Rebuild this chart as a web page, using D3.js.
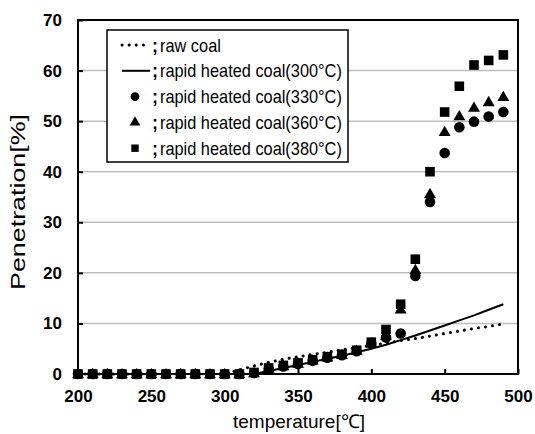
<!DOCTYPE html>
<html>
<head>
<meta charset="utf-8">
<script src="https://cdn.jsdelivr.net/npm/d3@7"></script>
<style>
  html, body { margin: 0; padding: 0; background: #fff; }
  svg { display: block; font-family: "Liberation Sans", Arial, sans-serif; }
</style>
</head>
<body>
<svg id="chart" width="535" height="434"></svg>
<script>
// Temperatures of the measurements (°C)
const temps = [200, 210, 220, 230, 240, 250, 260, 270, 280, 290,
               300, 310, 320, 330, 340, 350, 360, 370, 380, 390,
               400, 410, 420, 430, 440, 450, 460, 470, 480, 490];

// Penetration (%) per sample
const rawCoal = [0, 0, 0, 0, 0, 0, 0, 0, 0, 0,
                 0, 0.8, 1.6, 2.3, 2.9, 3.4, 3.9, 4.3, 4.8, 5.2,
                 5.7, 6.1, 6.6, 7.0, 7.5, 8.0, 8.5, 9.0, 9.4, 9.9];
const heated300 = [0, 0, 0, 0, 0, 0, 0, 0, 0, 0,
                   0, 0, 0, 0.6, 1.2, 1.8, 2.4, 3.0, 3.6, 4.3,
                   5.0, 5.8, 6.7, 7.6, 8.6, 9.6, 10.6, 11.6, 12.7, 13.8];
const heated330 = [0, 0, 0, 0, 0, 0, 0, 0, 0, 0,
                   0, 0, 0.2, 1.0, 1.5, 2.0, 2.6, 3.2, 3.7, 4.5,
                   6.0, 7.2, 8.0, 19.4, 34.0, 43.7, 48.8, 49.9, 50.9, 51.8];
const heated360 = [0, 0, 0, 0, 0, 0, 0, 0, 0, 0,
                   0, 0, 0.2, 1.1, 1.6, 2.1, 2.7, 3.3, 3.8, 4.6,
                   6.1, 7.6, 12.8, 20.6, 35.6, 47.9, 51.0, 52.7, 53.8, 54.8];
const heated380 = [0, 0, 0, 0, 0, 0, 0, 0, 0, 0,
                   0, 0, 0.3, 1.2, 1.7, 2.2, 2.8, 3.4, 3.9, 4.7,
                   6.3, 8.8, 13.8, 22.7, 40.0, 51.8, 56.9, 61.1, 62.0, 63.1];

// Axis ticks
const xTicks = [200, 250, 300, 350, 400, 450, 500];
const yTicks = [0, 10, 20, 30, 40, 50, 60, 70];
const gridValues = [10, 20, 30, 40, 50, 60];

// Legend entries
const legendLabels = ["raw coal", "rapid heated coal(300°C)", "rapid heated coal(330°C)",
                      "rapid heated coal(360°C)", "rapid heated coal(380°C)"];

const svg = d3.select("#chart");
const plot = { left: 78, right: 518, top: 20, bottom: 374 };

const x = d3.scaleLinear().domain([200, 500]).range([plot.left, plot.right]);
const y = d3.scaleLinear().domain([0, 70]).range([plot.bottom, plot.top]);

// Horizontal grid
svg.append("g")
  .selectAll("line")
  .data(gridValues)
  .join("line")
  .attr("x1", plot.left).attr("x2", plot.right)
  .attr("y1", d => y(d)).attr("y2", d => y(d))
  .attr("stroke", "#bdbdbd").attr("stroke-width", 1.5);

// Lines
const line = d3.line().x(d => x(d[0])).y(d => y(d[1]));
svg.append("path")
  .datum(temps.map((t, i) => [t, rawCoal[i]]))
  .attr("d", line)
  .attr("fill", "none").attr("stroke", "#000")
  .attr("stroke-width", 3).attr("stroke-linecap", "round")
  .attr("stroke-dasharray", "0.1 7");
svg.append("path")
  .datum(temps.map((t, i) => [t, heated300[i]]))
  .attr("d", line)
  .attr("fill", "none").attr("stroke", "#000").attr("stroke-width", 2);

// Markers
const symCircle = d3.symbol().type(d3.symbolCircle).size(88);
const symTriangle = d3.symbol().type(d3.symbolTriangle).size(62);
const symSquare = d3.symbol().type(d3.symbolSquare).size(92);

function drawMarkers(values, gen, dy) {
  svg.append("g")
    .selectAll("path")
    .data(temps.map((t, i) => [t, values[i]]))
    .join("path")
    .attr("d", gen)
    .attr("transform", d => `translate(${x(d[0])},${y(d[1]) + dy})`)
    .attr("fill", "#000");
}
drawMarkers(heated330, symCircle, 0);
drawMarkers(heated360, symTriangle, 0.8);
drawMarkers(heated380, symSquare, 0);

// Axes with inward ticks
const xAxis = svg.append("g")
  .attr("transform", `translate(0,${plot.bottom})`)
  .call(d3.axisBottom(x).tickValues(xTicks).tickSize(-5).tickPadding(16));
const yAxis = svg.append("g")
  .attr("transform", `translate(${plot.left},0)`)
  .call(d3.axisLeft(y).tickValues(yTicks).tickSize(-5).tickPadding(16));
[xAxis, yAxis].forEach(a => {
  a.select(".domain").remove();
  a.selectAll(".tick line").attr("stroke", "#000").attr("stroke-width", 2);
  a.selectAll(".tick text")
    .attr("fill", "#000")
    .style("font-family", "'Liberation Sans', Arial, sans-serif")
    .style("font-size", "17px").style("font-weight", "bold");
});

// Plot frame
svg.append("rect")
  .attr("x", plot.left).attr("y", plot.top)
  .attr("width", plot.right - plot.left).attr("height", plot.bottom - plot.top)
  .attr("fill", "none").attr("stroke", "#000").attr("stroke-width", 2);

// Axis titles
svg.append("text")
  .attr("x", 299).attr("y", 428)
  .attr("text-anchor", "middle")
  .style("font-size", "19px")
  .text("temperature[℃]");
svg.append("text")
  .attr("transform", "translate(25,202) rotate(-90)")
  .attr("text-anchor", "middle")
  .attr("textLength", 176)
  .attr("lengthAdjust", "spacingAndGlyphs")
  .style("font-size", "21px")
  .text("Penetration[%]");

// Legend
const legend = svg.append("g");
legend.append("rect")
  .attr("x", 107).attr("y", 30).attr("width", 241).attr("height", 132)
  .attr("fill", "#fff").attr("stroke", "#000").attr("stroke-width", 1.5);
const rowY = i => 45 + i * 25.8;
const symX = 135;
legendLabels.forEach((label, i) => {
  const cy = rowY(i);
  if (i === 0) {
    legend.append("line")
      .attr("x1", 122).attr("x2", 147).attr("y1", cy).attr("y2", cy)
      .attr("stroke", "#000").attr("stroke-width", 3)
      .attr("stroke-linecap", "round").attr("stroke-dasharray", "0.1 7");
  } else if (i === 1) {
    legend.append("line")
      .attr("x1", 122).attr("x2", 150).attr("y1", cy).attr("y2", cy)
      .attr("stroke", "#000").attr("stroke-width", 2);
  } else {
    const gen = [symCircle, symTriangle, symSquare][i - 2];
    legend.append("path")
      .attr("d", gen.size([60, 50, 55][i - 2])())
      .attr("transform", `translate(${symX},${cy})`)
      .attr("fill", "#000");
  }
  legend.append("text")
    .attr("x", 152).attr("y", cy + 6.5)
    .style("font-size", "18px").style("font-weight", "bold")
    .text(";");
  const t = legend.append("text")
    .attr("x", 160).attr("y", cy + 6.5)
    .style("font-size", "19px")
    .text(label);
  // condensed lettering
  const w = t.node().getComputedTextLength();
  t.attr("textLength", w * 0.86).attr("lengthAdjust", "spacingAndGlyphs");
});
</script>
</body>
</html>
